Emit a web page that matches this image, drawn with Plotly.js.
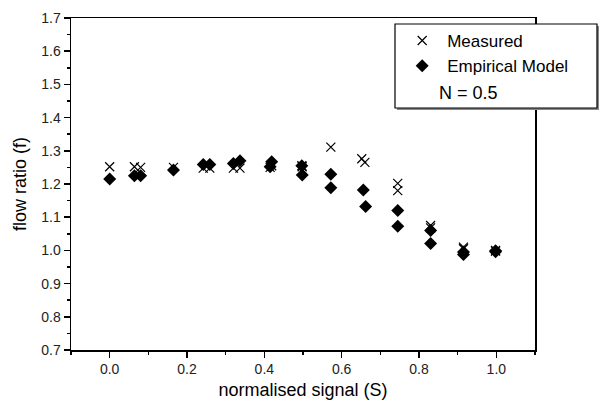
<!DOCTYPE html>
<html>
<head>
<meta charset="utf-8">
<script src="https://cdn.plot.ly/plotly-3.0.1.min.js"></script>
<style>html,body{margin:0;padding:0;background:#fff;}#chart{width:603px;height:405px;}</style>
</head>
<body>
<div id="chart"></div>
<script>
// Measured data (normalised signal S, flow ratio f)
var measuredS = [0.0, 0.064, 0.080, 0.165, 0.242, 0.259, 0.320, 0.337, 0.415, 0.419, 0.497, 0.498, 0.572, 0.652, 0.660, 0.745, 0.745, 0.830, 0.830, 0.915, 0.915, 0.998, 0.998];
var measuredF = [1.252, 1.252, 1.250, 1.250, 1.248, 1.248, 1.248, 1.248, 1.250, 1.255, 1.255, 1.252, 1.311, 1.276, 1.265, 1.202, 1.180, 1.075, 1.068, 1.010, 1.005, 1.000, 0.998];
// Empirical model
var modelS = [0.0, 0.064, 0.080, 0.165, 0.242, 0.259, 0.320, 0.337, 0.415, 0.419, 0.497, 0.498, 0.572, 0.572, 0.656, 0.662, 0.745, 0.745, 0.830, 0.830, 0.915, 0.915, 0.998, 0.998];
var modelF = [1.215, 1.225, 1.225, 1.242, 1.259, 1.259, 1.262, 1.270, 1.252, 1.267, 1.255, 1.227, 1.229, 1.189, 1.182, 1.132, 1.120, 1.073, 1.060, 1.021, 0.995, 0.988, 0.999, 0.996];
var seriesNames = ["Measured", "Empirical Model"];
var noteText = "N = 0.5";
var xTitle = "normalised signal (S)";
var yTitle = "flow ratio (f)";

var FONT = "Arial, 'Liberation Sans', Helvetica, sans-serif";

var traces = [
  {x: measuredS, y: measuredF, type: "scatter", mode: "markers", name: seriesNames[0],
   marker: {symbol: "x-thin-open", size: 9, color: "#000", line: {width: 1.2, color: "#000"}}},
  {x: modelS, y: modelF, type: "scatter", mode: "markers", name: seriesNames[1],
   marker: {symbol: "diamond", size: 10, color: "#000", line: {width: 0}}}
];

var axisCommon = {
  showgrid: false, zeroline: false, showline: true, linecolor: "#000", linewidth: 1.5,
  mirror: true, ticks: "outside", tickcolor: "#000", tickwidth: 1.5,
  tickfont: {family: FONT, size: 14, color: "#222"}, tickformat: ".1f"
};

var layout = {
  width: 603, height: 405,
  margin: {l: 71, r: 68, t: 18, b: 55},
  paper_bgcolor: "#fff", plot_bgcolor: "#fff",
  showlegend: true,
  font: {family: FONT, color: "#000"},
  xaxis: Object.assign({}, axisCommon, {
    range: [-0.1, 1.1], tick0: 0, dtick: 0.2, ticklen: 6,
    minor: {ticks: "outside", dtick: 0.1, tick0: 0, ticklen: 3, tickcolor: "#000", tickwidth: 1.5},
    title: {text: xTitle, font: {family: FONT, size: 18, color: "#000"}, standoff: 7}
  }),
  yaxis: Object.assign({}, axisCommon, {
    range: [0.7, 1.7], tick0: 0.7, dtick: 0.1, ticklen: 6,
    minor: {ticks: "outside", dtick: 0.05, tick0: 0.7, ticklen: 3, tickcolor: "#000", tickwidth: 1.5},
    title: {text: yTitle, font: {family: FONT, size: 18, color: "#000"}, standoff: 10}
  }),
  legend: {
    x: 0.703, y: 0.985, xanchor: "left", yanchor: "top",
    bgcolor: "rgba(0,0,0,0)", borderwidth: 0,
    font: {family: FONT, size: 17, color: "#000"},
    itemwidth: 40
  },
  shapes: [
    {type: "rect", xref: "paper", yref: "paper", layer: "above",
     x0: (397 - 71) / 464, x1: (599 - 71) / 464, y0: 1 - (110 - 18) / 332, y1: 1 - (26 - 18) / 332,
     fillcolor: "#888", line: {width: 0}},
    {type: "rect", xref: "paper", yref: "paper", layer: "above",
     x0: (395 - 71) / 464, x1: (597 - 71) / 464, y0: 1 - (108 - 18) / 332, y1: 1 - (24 - 18) / 332,
     fillcolor: "#fff", line: {width: 1.2, color: "#000"}}
  ],
  annotations: [
    {text: noteText, xref: "paper", yref: "paper", x: (437 - 71) / 464, y: 1 - (93 - 18) / 332,
     xanchor: "left", yanchor: "middle", showarrow: false,
     font: {family: FONT, size: 18, color: "#000"}}
  ]
};

Plotly.newPlot("chart", traces, layout, {displayModeBar: false, staticPlot: true});
</script>
</body>
</html>
